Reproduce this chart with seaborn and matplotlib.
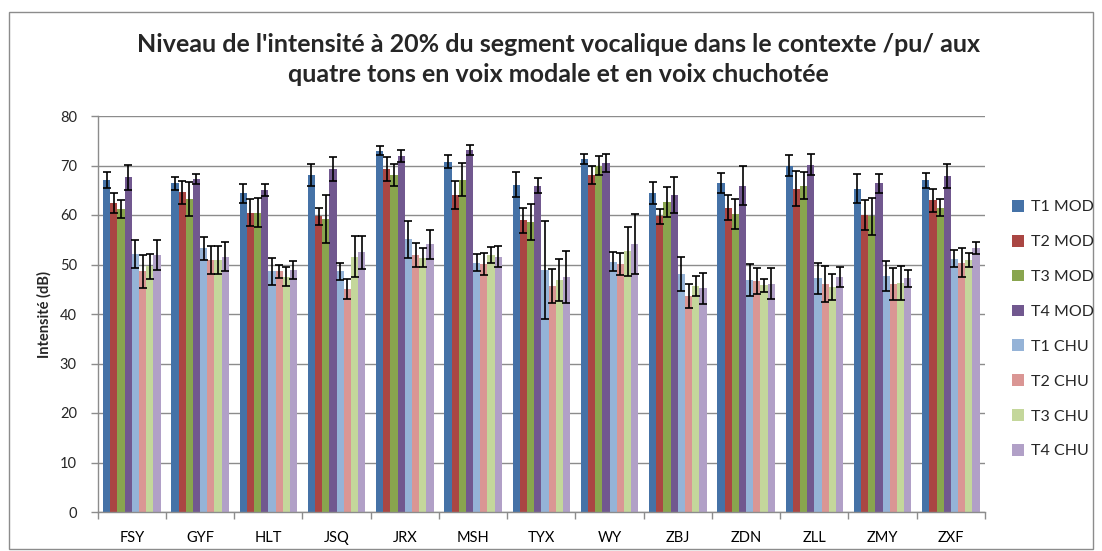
import numpy as np
import pandas as pd
import matplotlib
matplotlib.use("Agg")
import matplotlib.pyplot as plt
from matplotlib.patches import Patch, Rectangle
import seaborn as sns

speakers = ["FSY", "GYF", "HLT", "JSQ", "JRX", "MSH", "TYX", "WY", "ZBJ", "ZDN", "ZLL", "ZMY", "ZXF"]
series = ["T1 MOD", "T2 MOD", "T3 MOD", "T4 MOD", "T1 CHU", "T2 CHU", "T3 CHU", "T4 CHU"]

t1_mod = [67.1, 66.4, 64.4, 68.1, 73.0, 70.8, 66.1, 71.3, 64.4, 66.4, 70.0, 65.3, 67.0]
t2_mod = [62.4, 64.6, 60.5, 59.7, 69.3, 64.1, 58.9, 68.1, 59.7, 61.5, 65.3, 60.0, 63.0]
t3_mod = [61.2, 63.2, 60.5, 59.2, 68.1, 67.1, 58.6, 70.0, 62.6, 60.2, 65.9, 59.7, 61.5]
t4_mod = [67.6, 67.3, 65.1, 69.3, 71.9, 73.1, 65.9, 70.5, 64.1, 65.9, 70.2, 66.4, 67.9]
t1_chu = [52.1, 53.3, 48.6, 48.6, 55.1, 50.4, 48.9, 50.6, 48.1, 46.9, 47.2, 47.7, 51.2]
t2_chu = [48.6, 50.9, 48.6, 45.1, 51.9, 50.1, 45.7, 50.1, 43.6, 46.6, 46.1, 46.1, 50.4]
t3_chu = [49.6, 50.9, 47.5, 51.6, 51.4, 51.9, 46.9, 52.7, 45.7, 45.8, 45.5, 46.3, 50.9]
t4_chu = [51.9, 51.6, 48.9, 52.5, 54.1, 51.6, 47.5, 54.1, 45.2, 46.1, 47.5, 47.2, 53.3]

# standard deviations (symmetric error bars)
t1_mod_sd = [1.6, 1.3, 1.9, 2.2, 0.9, 1.3, 2.5, 1.0, 2.2, 2.0, 2.05, 2.95, 1.45]
t2_mod_sd = [2.0, 2.3, 2.8, 1.75, 2.4, 2.85, 2.45, 1.9, 1.55, 2.6, 3.5, 3.1, 2.3]
t3_mod_sd = [1.75, 3.4, 2.95, 4.9, 2.2, 3.35, 3.65, 1.85, 3.0, 3.1, 2.7, 3.65, 1.75]
t4_mod_sd = [2.45, 1.0, 1.25, 2.5, 1.15, 1.05, 1.5, 1.9, 3.6, 3.9, 2.05, 1.9, 2.4]
t1_chu_sd = [2.85, 2.35, 2.75, 1.65, 3.75, 1.75, 9.85, 1.9, 3.5, 3.3, 3.15, 3.05, 1.7]
t2_chu_sd = [3.3, 2.85, 1.35, 2.05, 2.45, 2.15, 3.45, 2.15, 2.45, 2.6, 3.65, 3.25, 3.0]
t3_chu_sd = [2.5, 2.8, 1.9, 4.1, 2.0, 1.65, 4.2, 4.95, 2.05, 1.3, 2.6, 3.4, 1.5]
t4_chu_sd = [3.0, 2.95, 1.75, 3.35, 2.9, 2.05, 5.3, 6.05, 3.15, 3.1, 1.95, 1.65, 1.25]

means = [t1_mod, t2_mod, t3_mod, t4_mod, t1_chu, t2_chu, t3_chu, t4_chu]
sds = [t1_mod_sd, t2_mod_sd, t3_mod_sd, t4_mod_sd, t1_chu_sd, t2_chu_sd, t3_chu_sd, t4_chu_sd]

colors = ["#4572A7", "#AA4643", "#89A54E", "#71588F",
          "#95B3D7", "#DA9694", "#C4D79B", "#B1A0C7"]

rows = []
for name, m, s in zip(series, means, sds):
    for spk, v, e in zip(speakers, m, s):
        rows.append({"speaker": spk, "serie": name, "value": v, "sd": e})
df = pd.DataFrame(rows)

sns.set_theme(style="white")
plt.rcParams["font.family"] = ["Lato", "DejaVu Sans"]

fig = plt.figure(figsize=(11.02, 5.51), dpi=100)
ax = fig.add_axes([97.7 / 1102, 1 - 512 / 551, (985 - 97.7) / 1102, (512 - 116) / 551])

sns.barplot(data=df, x="speaker", y="value", hue="serie", order=speakers,
            hue_order=series, palette=colors, width=0.842, gap=0,
            errorbar=None, saturation=1, legend=False, ax=ax, linewidth=0)

# error bars at the centre of each drawn bar
for container, name in zip(ax.containers, series):
    sub = df[df["serie"] == name].set_index("speaker").loc[speakers]
    xs = [p.get_x() + p.get_width() / 2 for p in container.patches]
    hs = [p.get_height() for p in container.patches]
    ax.errorbar(xs, hs, yerr=sub["sd"].values, fmt="none", ecolor="black",
                elinewidth=1.2, capsize=2.8, capthick=1.2, zorder=5)

ax.set_xlim(-0.5, len(speakers) - 0.5)
ax.set_ylim(0, 80)
ax.set_yticks(np.arange(0, 81, 10))
ax.yaxis.grid(True, color="#8C8C8C", linewidth=1.0)
ax.set_axisbelow(True)
ax.set_xlabel("")
ax.set_ylabel("Intensité (dB)", fontsize=10.5, fontweight="bold")
ax.yaxis.set_label_coords(-0.0515, 0.5)

for side in ["top", "right"]:
    ax.spines[side].set_visible(False)
for side in ["left", "bottom"]:
    ax.spines[side].set_color("#8C8C8C")
    ax.spines[side].set_linewidth(1.0)

ax.set_xticks(np.arange(len(speakers)))
ax.set_xticklabels(speakers)
ax.set_xticks(np.arange(-0.5, len(speakers) + 0.5, 1), minor=True)
ax.tick_params(axis="x", which="major", length=0, pad=14, labelsize=10.5, colors="#000000")
ax.tick_params(axis="x", which="minor", length=5, width=1, color="#8C8C8C", bottom=True)
ax.tick_params(axis="y", which="major", length=5, width=1, color="#8C8C8C", pad=10,
               labelsize=10.5, left=True)

fig.text(0.507, 1 - 45 / 551, "Niveau de l'intensité à 20% du segment vocalique dans le contexte /pu/ aux",
         ha="center", va="center", fontsize=18, fontweight="bold")
fig.text(0.507, 1 - 74 / 551, "quatre tons en voix modale et en voix chuchotée",
         ha="center", va="center", fontsize=18, fontweight="bold")

handles = [Patch(facecolor=c, edgecolor="none", label=s) for c, s in zip(colors, series)]
fig.legend(handles=handles, loc="upper left", bbox_to_anchor=(1012 / 1102, 1 - 200 / 551),
           frameon=False, fontsize=11.5, handlelength=0.75, handleheight=0.75,
           handletextpad=0.45, labelspacing=1.28, borderaxespad=0, borderpad=0)

fig.patches.append(Rectangle((9 / 1102, 2 / 551), 1084 / 1102, 537 / 551,
                             transform=fig.transFigure, fill=False,
                             edgecolor="#8C8C8C", linewidth=1.0))

fig.savefig("out.png", dpi=100)
